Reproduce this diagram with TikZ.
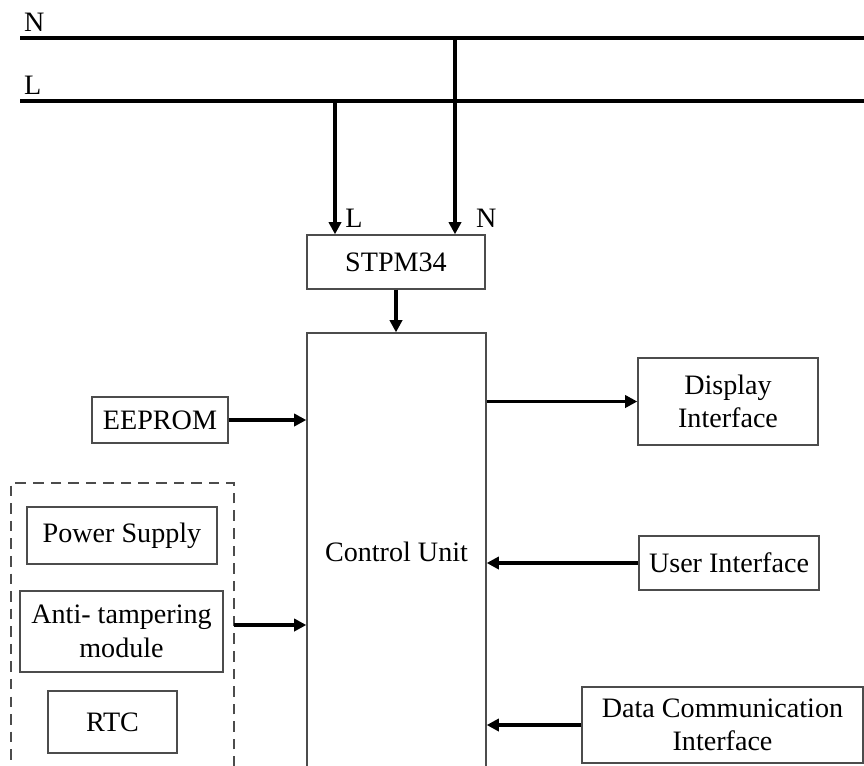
\documentclass[tikz,border=0pt]{standalone}
\usepackage{fontspec}
\setmainfont{Liberation Serif}
\usetikzlibrary{arrows.meta}

\tikzset{
    block/.style={draw=black!70, line width=0.8pt, align=center, font=\fontsize{16}{19}\selectfont},
    flow/.style={line width=1.9pt, -{Triangle[length=7pt,width=7pt]}},
    mains/.style={line width=1.9pt},
}

\begin{document}
\begin{tikzpicture}[x=0.02cm, y=-0.02cm, font=\fontsize{16}{19}\selectfont]
        \useasboundingbox (0,0) rectangle (864,765);
        \clip (0,0) rectangle (864,765);
        % supply lines
        \coordinate (nstart) at (20,38);
        \coordinate (nend) at (864,38);
        \coordinate (lstart) at (20,101);
        \coordinate (lend) at (864,101);
        \draw[mains] (nstart) -- (nend);
        \draw[mains] (lstart) -- (lend);
        \node[anchor=south west, inner sep=1pt] (nlabel) at (22,34) {N};
        \node[anchor=south west, inner sep=1pt] (llabel) at (22,97) {L};
        % blocks
        \node[block, minimum width=3.56cm, minimum height=1.08cm] (stpm) at (396,262) {STPM34};
        \node[block, minimum width=3.58cm, minimum height=8.74cm] (ctrl) at (396.5,551.5) {Control Unit};
        \node[block, minimum width=2.72cm, minimum height=0.92cm] (eeprom) at (160,420) {EEPROM};
        \node[block, minimum width=3.6cm, minimum height=1.74cm] (display) at (728,401.5) {Display\\Interface};
        \node[block, minimum width=3.6cm, minimum height=1.08cm] (user) at (729,563) {User Interface};
        \node[block, minimum width=5.62cm, minimum height=1.52cm] (datacom) at (722.5,725) {Data Communication\\Interface};
        \node[draw=black!70, line width=0.8pt, dashed, dash pattern=on 6pt off 4pt, minimum width=4.46cm, minimum height=6.14cm] (grp) at (122.5,636.5) {};
        \node[block, minimum width=3.8cm, minimum height=1.14cm] (power) at (122,535.5) {Power Supply};
        \node[block, minimum width=4.06cm, minimum height=1.62cm] (anti) at (121.5,631.5) {Anti- tampering\\module};
        \node[block, minimum width=2.58cm, minimum height=1.24cm] (rtc) at (112.5,722) {RTC};
        % taps into the meter chip
        \coordinate (ltap) at (335,101);
        \coordinate (ntap) at (455,38);
        \draw[flow] (ltap) -- (ltap |- stpm.north) node[anchor=south west, inner sep=1pt, xshift=4pt, yshift=2pt]{L};
        \draw[flow] (ntap) -- (ntap |- stpm.north) node[anchor=south west, inner sep=1pt, xshift=10pt, yshift=2pt]{N};
        \draw[flow] (stpm.south) -- (stpm.south |- ctrl.north);
        % peripherals
        \coordinate (grpout) at (234,625);
        \draw[flow] (eeprom.east) -- (ctrl.west |- eeprom.east);
        \draw[flow] (grpout) -- (ctrl.west |- grpout);
        \draw[flow] (ctrl.east |- display.west) -- (display.west);
        \draw[flow] (user.west) -- (ctrl.east |- user.west);
        \draw[flow] (datacom.west) -- (ctrl.east |- datacom.west);
    \end{tikzpicture}
\end{document}
